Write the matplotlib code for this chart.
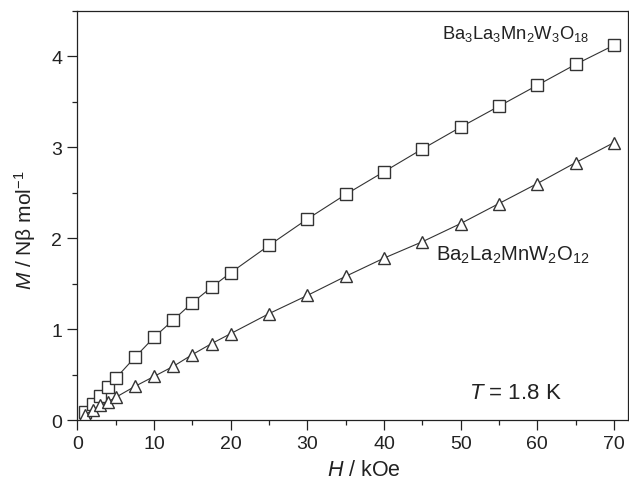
import matplotlib
matplotlib.use('Agg')
import matplotlib.pyplot as plt
from matplotlib.ticker import MultipleLocator

# field values (kOe) and magnetisation (N beta per mol)
field = [1, 2, 3, 4, 5, 7.5, 10, 12.5, 15, 17.5, 20, 25, 30, 35, 40, 45, 50, 55, 60, 65, 70]
m_323 = [0.09, 0.18, 0.26, 0.36, 0.46, 0.69, 0.91, 1.10, 1.29, 1.46, 1.62, 1.92, 2.21,
         2.48, 2.73, 2.98, 3.22, 3.45, 3.68, 3.91, 4.12]
m_212 = [0.06, 0.11, 0.16, 0.20, 0.25, 0.37, 0.48, 0.59, 0.72, 0.84, 0.95, 1.17, 1.37,
         1.58, 1.78, 1.96, 2.16, 2.38, 2.60, 2.83, 3.05]
label_323 = r"$\mathrm{Ba_3La_3Mn_2W_3O_{18}}$"
label_212 = r"$\mathrm{Ba_2La_2MnW_2O_{12}}$"

plt.rcParams['font.family'] = ['Liberation Sans', 'DejaVu Sans']
plt.rcParams['mathtext.fontset'] = 'custom'
plt.rcParams['mathtext.rm'] = 'Liberation Sans'
plt.rcParams['mathtext.it'] = 'Liberation Sans:italic'
plt.rcParams['mathtext.bf'] = 'Liberation Sans:bold'

ink = '#222222'

fig = plt.figure(figsize=(6.29, 4.81), dpi=100)
ax = fig.add_axes([0.1232, 0.1247, 0.8748, 0.851])

line_kw = dict(color='#333333', lw=0.8, mfc='white', mec='#333333', mew=1.0)
ax.plot(field, m_323, marker='s', ms=8, **line_kw)
ax.plot(field, m_212, marker='^', ms=9, **line_kw)

ax.set_xlim(0, 71.8)
ax.set_ylim(0, 4.5)
ax.xaxis.set_major_locator(MultipleLocator(10))
ax.xaxis.set_minor_locator(MultipleLocator(5))
ax.yaxis.set_major_locator(MultipleLocator(1))
ax.yaxis.set_minor_locator(MultipleLocator(0.5))

ax.tick_params(which='major', direction='out', length=7, width=0.9, color=ink,
               labelsize=14, labelcolor=ink, pad=4)
ax.tick_params(which='minor', direction='out', length=3.4, width=0.9, color=ink)
for s in ax.spines.values():
    s.set_linewidth(0.9)
    s.set_color(ink)

# axis titles
ax.set_xlabel(r"$H$ / kOe", fontsize=15.5, color=ink)
ax.xaxis.set_label_coords(0.52, -0.096)
ax.set_ylabel(r"$M$ / Nβ mol$^{-1}$", fontsize=15, color=ink)
ax.yaxis.set_label_coords(-0.072, 0.465)

# compound names and temperature
ax.text(47.6, 4.2, label_323, fontsize=13.2, color=ink, va='baseline')
ax.text(46.8, 1.76, label_212, fontsize=14.6, color=ink, va='baseline')
ax.text(51.1, 0.24, r"$T$ = 1.8 K", fontsize=16, color=ink, va='baseline')

fig.savefig('out.png', dpi=100)
